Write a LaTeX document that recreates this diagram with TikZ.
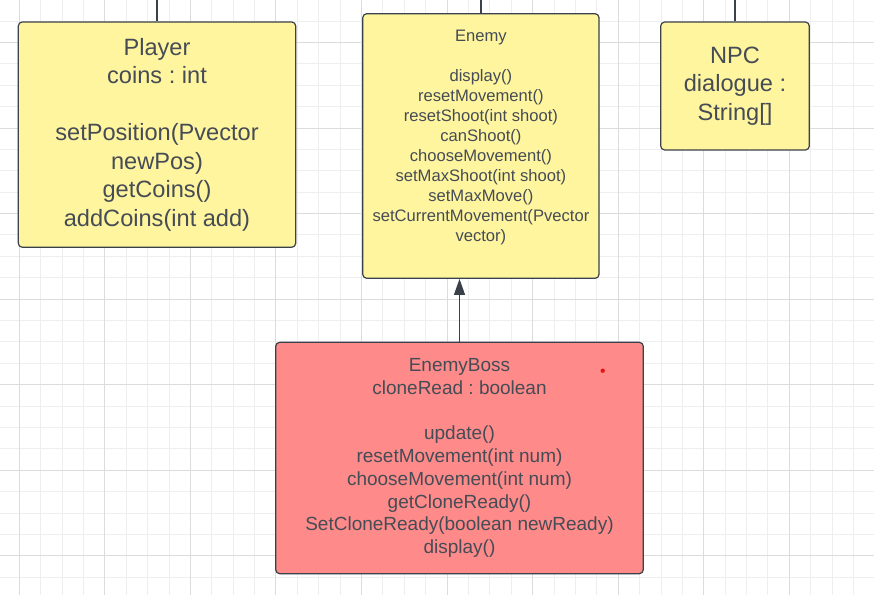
\documentclass[tikz,border=0pt]{standalone}
\usepackage{fontspec}
\setmainfont{Liberation Sans}
\frenchspacing
\usetikzlibrary{arrows.meta}
\definecolor{boxline}{HTML}{3A414A}
\definecolor{boxtext}{HTML}{454C55}
\definecolor{classyellow}{HTML}{FFF59E}
\definecolor{classred}{HTML}{FF8A8A}
\definecolor{gridminor}{HTML}{EEEEEE}
\definecolor{gridmajor}{HTML}{DCDCDC}
\definecolor{dotred}{HTML}{E81515}
\begin{document}
\begin{tikzpicture}[x=1pt, y=-1pt, line join = round,
	classbox/.style={draw=boxline, line width=1.2pt, rounded corners=4pt, fill=classyellow, text=boxtext, align=center, inner sep=0pt},
	bigtext/.style={font=\fontsize{23.6}{28.5}\selectfont},
	smalltext/.style={font=\fontsize{16.6}{20}\selectfont},
	midtext/.style={font=\fontsize{19}{22.8}\selectfont},
	link/.style={draw=boxline, line width=1.2pt}]
	\useasboundingbox (0,0) rectangle (874,595);
	\fill[white] (0,0) rectangle (874,595);
	\foreach \k in {0,...,40} {\draw[gridminor, line width=1pt] ({19.3+21.39*\k},0) -- ({19.3+21.39*\k},595);}
	\foreach \k in {0,...,28} {\draw[gridminor, line width=1pt] (0,{-0.3+21.39*\k}) -- (874,{-0.3+21.39*\k});}
	\foreach \k in {0,...,10} {\draw[gridmajor, line width=1pt] ({19.3+85.56*\k},0) -- ({19.3+85.56*\k},595);}
	\foreach \k in {0,...,6} {\draw[gridmajor, line width=1pt] (0,{42.5+85.56*\k}) -- (874,{42.5+85.56*\k});}
	\node[classbox, bigtext, minimum width=277.4pt, minimum height=225.3pt] (player) at (157,134.6)
		{Player\\coins : int\\[28.5pt]setPosition(Pvector\\newPos)\\getCoins()\\addCoins(int add)};
	\node[classbox, smalltext, minimum width=236.3pt, minimum height=264.6pt] (enemy) at (480.9,146)
		{Enemy\\[20pt]display()\\resetMovement()\\resetShoot(int shoot)\\canShoot()\\chooseMovement()\\setMaxShoot(int shoot)\\setMaxMove()\\setCurrentMovement(Pvector\\vector)\\ \mbox{}};
	\node[classbox, bigtext, minimum width=148.6pt, minimum height=128pt] (npc) at (735,86)
		{NPC\\dialogue :\\String[]};
	\node[classbox, midtext, fill=classred, minimum width=367.6pt, minimum height=231.4pt] (boss) at (459.5,458)
		{EnemyBoss\\cloneRead : boolean\\[22.8pt]update()\\resetMovement(int num)\\chooseMovement(int num)\\getCloneReady()\\SetCloneReady(boolean newReady)\\display()};
	\foreach \c in {player,enemy,npc} {
		\coordinate (\c up) at (\c.north |- 0,0);
		\draw[link] (\c.north) -- (\c up);
	}
	\draw[link, -{Triangle[length=16pt, width=11pt]}, fill=boxline] (boss.north) -- (boss.north |- enemy.south);
	\node[circle, fill=dotred, inner sep=0pt, minimum size=4.4pt] (dot) at (602.7,370.7) {};
\end{tikzpicture}
\end{document}
